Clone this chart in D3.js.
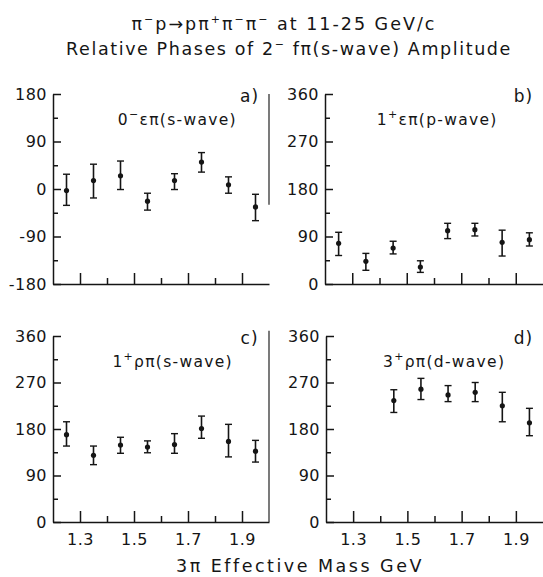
<!DOCTYPE html>
<html lang="en">
<head>
<meta charset="utf-8"/>
<script src="https://cdnjs.cloudflare.com/ajax/libs/d3/7.8.5/d3.min.js"></script>
<style>
  body { margin: 0; background: #fff; }
  svg text { font-family: "DejaVu Sans", sans-serif; fill: #151515; }
</style>
</head>
<body>
<svg id="chart" width="543" height="577"></svg>
<script>
// 3pi mass bins (GeV)
var masses = [1.25, 1.35, 1.45, 1.55, 1.65, 1.75, 1.85, 1.95];
var massesD = [1.45, 1.55, 1.65, 1.75, 1.85, 1.95];

// a) 0- eps pi (s-wave)
var phaseA = [-3, 16, 25, -23, 16, 51, 8, -34];
var hiA = [28, 47, 53, -8, 29, 69, 23, -10];
var loA = [-31, -17, -1, -40, -1, 32, -8, -60];
// b) 1+ eps pi (p-wave)
var phaseB = [77, 43, 68, 32, 101, 103, 79, 84];
var hiB = [98, 58, 81, 44, 115, 115, 102, 97];
var loB = [54, 26, 57, 22, 86, 91, 53, 72];
// c) 1+ rho pi (s-wave)
var phaseC = [169, 129, 149, 145, 150, 181, 156, 137];
var hiC = [194, 147, 164, 157, 171, 205, 189, 158];
var loC = [147, 111, 133, 134, 133, 162, 126, 116];
// d) 3+ rho pi (d-wave)
var phaseD = [235, 257, 246, 251, 225, 192];
var hiD = [256, 278, 264, 270, 251, 220];
var loD = [212, 237, 233, 233, 194, 167];

var xMajor = [1.3, 1.5, 1.7, 1.9];
var xMinor = [1.4, 1.6, 1.8];
var yTicksA = [-180, -90, 0, 90, 180];
var yTicks = [0, 90, 180, 270, 360];

var svg = d3.select("#chart");

function sup(t, s, size) {
  t.append("tspan").attr("dy", -7).style("font-size", size || "11px").text(s);
}

// title
var t1 = svg.append("text").attr("x", 284).attr("y", 30)
  .attr("text-anchor", "middle").style("font-size", "17.5px").style("letter-spacing", "2px");
t1.append("tspan").text("\u03c0");
sup(t1, "\u2212");
t1.append("tspan").attr("dy", 7).text("p\u2192p\u03c0");
sup(t1, "+");
t1.append("tspan").attr("dy", 7).text("\u03c0");
sup(t1, "\u2212");
t1.append("tspan").attr("dy", 7).text("\u03c0");
sup(t1, "\u2212");
t1.append("tspan").attr("dy", 7).text(" at 11-25 GeV/c");

var t2 = svg.append("text").attr("x", 289).attr("y", 55)
  .attr("text-anchor", "middle").style("font-size", "17.5px").style("letter-spacing", "1.6px");
t2.append("tspan").text("Relative Phases of 2");
sup(t2, "\u2212");
t2.append("tspan").attr("dy", 7).text(" f\u03c0(s-wave) Amplitude");

var panels = [
  { tag: "a)", pre: "0", sup: "\u2212", rest: "\u03b5\u03c0(s-wave)", xs: masses, v: phaseA, hi: hiA, lo: loA, labAt: 1.44,
    ticks: yTicksA, dom: [-180, 180], left: 53, right: 269, top: 94, bottom: 284, xlab: false, border: [180, -30] },
  { tag: "b)", pre: "1", sup: "+", rest: "\u03b5\u03c0(p-wave)", xs: masses, v: phaseB, hi: hiB, lo: loB, labAt: 1.39,
    ticks: yTicks, dom: [0, 360], left: 325, right: 543, top: 94, bottom: 284, xlab: false },
  { tag: "c)", pre: "1", sup: "+", rest: "\u03c1\u03c0(s-wave)", xs: masses, v: phaseC, hi: hiC, lo: loC, labAt: 1.42,
    ticks: yTicks, dom: [0, 360], left: 53, right: 269, top: 336, bottom: 522, xlab: true, border: [370, 0] },
  { tag: "d)", pre: "3", sup: "+", rest: "\u03c1\u03c0(d-wave)", xs: massesD, v: phaseD, hi: hiD, lo: loD, labAt: 1.41,
    ticks: yTicks, dom: [0, 360], left: 326, right: 543, top: 336, bottom: 522, xlab: true }
];

panels.forEach(function(p) {
  var x = d3.scaleLinear().domain([1.2, 2.0]).range([p.left, p.right]);
  var y = d3.scaleLinear().domain(p.dom).range([p.bottom, p.top]);
  var g = svg.append("g");

  // left axis, ticks pointing inward
  g.append("g").attr("transform", "translate(" + p.left + ",0)")
    .call(d3.axisLeft(y).tickValues(p.ticks).tickSizeInner(-8).tickSizeOuter(0)
      .tickPadding(6).tickFormat(function(d) { return String(d); }));
  var minorY = p.ticks.slice(1).map(function(d, i) { return (d + p.ticks[i]) / 2; });
  g.append("g").attr("transform", "translate(" + p.left + ",0)")
    .call(d3.axisLeft(y).tickValues(minorY).tickSizeInner(-5).tickSizeOuter(0).tickFormat(""))
    .select(".domain").remove();

  // bottom axis, ticks pointing up
  g.append("g").attr("transform", "translate(0," + p.bottom + ")")
    .call(d3.axisBottom(x).tickValues(xMajor).tickSizeInner(-11).tickSizeOuter(0)
      .tickPadding(12).tickFormat(p.xlab ? d3.format(".1f") : ""));
  g.append("g").attr("transform", "translate(0," + p.bottom + ")")
    .call(d3.axisBottom(x).tickValues(xMinor).tickSizeInner(-6).tickSizeOuter(0).tickFormat(""))
    .select(".domain").remove();

  g.selectAll(".domain, .tick line").attr("stroke", "#151515").attr("stroke-width", 1.5);
  g.selectAll(".tick text").style("font-size", "16px").attr("fill", "#151515")
    .style("font-family", "DejaVu Sans, sans-serif").style("letter-spacing", "0.5px");

  if (p.border) {
    g.append("line").attr("x1", p.right).attr("x2", p.right)
      .attr("y1", y(p.border[0])).attr("y2", y(p.border[1]))
      .attr("stroke", "#333").attr("stroke-width", 1.3);
  }

  // labels
  g.append("text").attr("x", x(1.2) + (p.right - p.left) * 0.91).attr("y", p.top + 8)
    .attr("text-anchor", "middle").style("font-size", "17px").style("letter-spacing", "1px").text(p.tag);
  var lab = g.append("text").attr("x", x(p.labAt)).attr("y", p.top + 31)
    .style("font-size", "15.5px").style("letter-spacing", "1.3px");
  lab.append("tspan").text(p.pre);
  sup(lab, p.sup, "11px");
  lab.append("tspan").attr("dy", 7).text(p.rest);

  // error bars
  var pts = p.xs.map(function(m, i) { return { m: m, v: p.v[i], hi: p.hi[i], lo: p.lo[i] }; });
  var eb = g.selectAll(".eb").data(pts).enter().append("g");
  eb.append("line").attr("x1", function(d) { return x(d.m); }).attr("x2", function(d) { return x(d.m); })
    .attr("y1", function(d) { return y(d.hi); }).attr("y2", function(d) { return y(d.lo); })
    .attr("stroke", "#151515").attr("stroke-width", 1.6);
  ["hi", "lo"].forEach(function(k) {
    eb.append("line").attr("x1", function(d) { return x(d.m) - 3.5; }).attr("x2", function(d) { return x(d.m) + 3.5; })
      .attr("y1", function(d) { return y(d[k]); }).attr("y2", function(d) { return y(d[k]); })
      .attr("stroke", "#151515").attr("stroke-width", 1.4);
  });
  eb.append("circle").attr("cx", function(d) { return x(d.m); }).attr("cy", function(d) { return y(d.v); })
    .attr("r", 2.6).attr("fill", "#151515");
});

// x axis title
svg.append("text").attr("x", 300).attr("y", 572).attr("text-anchor", "middle")
  .style("font-size", "17.5px").style("letter-spacing", "2.5px")
  .text("3\u03c0  Effective  Mass  GeV");
</script>
</body>
</html>
